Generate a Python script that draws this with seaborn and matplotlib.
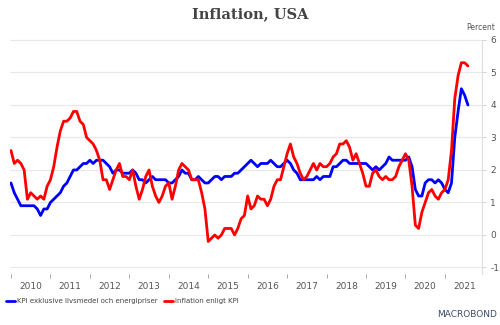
import numpy as np
import pandas as pd
import matplotlib
matplotlib.use("Agg")
import matplotlib.pyplot as plt
import seaborn as sns

# Monthly year-over-year change, Jan 2010 - Aug 2021 (percent)
core_cpi = [
    1.6, 1.3, 1.1, 0.9, 0.9, 0.9, 0.9, 0.9, 0.8, 0.6, 0.8, 0.8,   # 2010
    1.0, 1.1, 1.2, 1.3, 1.5, 1.6, 1.8, 2.0, 2.0, 2.1, 2.2, 2.2,   # 2011
    2.3, 2.2, 2.3, 2.3, 2.3, 2.2, 2.1, 1.9, 2.0, 2.0, 1.9, 1.9,   # 2012
    1.9, 2.0, 1.9, 1.7, 1.7, 1.6, 1.7, 1.8, 1.7, 1.7, 1.7, 1.7,   # 2013
    1.6, 1.6, 1.7, 1.8, 2.0, 1.9, 1.9, 1.7, 1.7, 1.8, 1.7, 1.6,   # 2014
    1.6, 1.7, 1.8, 1.8, 1.7, 1.8, 1.8, 1.8, 1.9, 1.9, 2.0, 2.1,   # 2015
    2.2, 2.3, 2.2, 2.1, 2.2, 2.2, 2.2, 2.3, 2.2, 2.1, 2.1, 2.2,   # 2016
    2.3, 2.2, 2.0, 1.9, 1.7, 1.7, 1.7, 1.7, 1.7, 1.8, 1.7, 1.8,   # 2017
    1.8, 1.8, 2.1, 2.1, 2.2, 2.3, 2.3, 2.2, 2.2, 2.2, 2.2, 2.2,   # 2018
    2.2, 2.1, 2.0, 2.1, 2.0, 2.1, 2.2, 2.4, 2.3, 2.3, 2.3, 2.3,   # 2019
    2.3, 2.4, 2.1, 1.4, 1.2, 1.2, 1.6, 1.7, 1.7, 1.6, 1.7, 1.6,   # 2020
    1.4, 1.3, 1.6, 3.0, 3.8, 4.5, 4.3, 4.0,                       # 2021
]
headline_cpi = [
    2.6, 2.2, 2.3, 2.2, 2.0, 1.1, 1.3, 1.2, 1.1, 1.2, 1.1, 1.5,   # 2010
    1.7, 2.1, 2.7, 3.2, 3.5, 3.5, 3.6, 3.8, 3.8, 3.5, 3.4, 3.0,   # 2011
    2.9, 2.8, 2.6, 2.3, 1.7, 1.7, 1.4, 1.7, 2.0, 2.2, 1.8, 1.8,   # 2012
    1.7, 2.0, 1.5, 1.1, 1.4, 1.8, 2.0, 1.5, 1.2, 1.0, 1.2, 1.5,   # 2013
    1.6, 1.1, 1.5, 2.0, 2.2, 2.1, 2.0, 1.7, 1.7, 1.7, 1.3, 0.8,   # 2014
    -0.2, -0.1, 0.0, -0.1, 0.0, 0.2, 0.2, 0.2, 0.0, 0.2, 0.5, 0.6, # 2015
    1.2, 0.8, 0.9, 1.2, 1.1, 1.1, 0.9, 1.1, 1.5, 1.7, 1.7, 2.1,   # 2016
    2.5, 2.8, 2.4, 2.2, 1.9, 1.7, 1.8, 2.0, 2.2, 2.0, 2.2, 2.1,   # 2017
    2.1, 2.2, 2.4, 2.5, 2.8, 2.8, 2.9, 2.7, 2.3, 2.5, 2.2, 1.9,   # 2018
    1.5, 1.5, 1.9, 2.0, 1.8, 1.7, 1.8, 1.7, 1.7, 1.8, 2.1, 2.3,   # 2019
    2.5, 2.3, 1.5, 0.3, 0.2, 0.7, 1.0, 1.3, 1.4, 1.2, 1.1, 1.3,   # 2020
    1.4, 1.7, 2.6, 4.2, 4.9, 5.3, 5.3, 5.2,                       # 2021
]
series_names = ["KPI exklusive livsmedel och energipriser", "Inflation enligt KPI"]
series_colors = ["#0000FF", "#FF0000"]
years = list(range(2010, 2022))
y_ticks = [-1, 0, 1, 2, 3, 4, 5, 6]

t = 2010 + np.arange(len(core_cpi)) / 12.0
df = pd.concat([
    pd.DataFrame({"t": t, "value": core_cpi, "series": series_names[0]}),
    pd.DataFrame({"t": t, "value": headline_cpi, "series": series_names[1]}),
])

sns.set_theme(style="white")
plt.rcParams["font.family"] = ["DejaVu Sans"]

fig = plt.figure(figsize=(5, 3.25), dpi=100)
ax = fig.add_axes([0.02, 0.157, 0.944, 0.72])

sns.lineplot(data=df, x="t", y="value", hue="series", hue_order=series_names,
             palette=series_colors, linewidth=2.0, ax=ax, legend=False)

ax.set_xlim(2009.975, 2021.94)
ax.set_ylim(-1.2, 6.0)
ax.set_xlabel("")
ax.set_ylabel("")

# grid lines
for v in y_ticks:
    ax.axhline(v, color="#e8e8e8", linewidth=0.9, zorder=0, clip_on=False)

# right-hand y axis
ax.yaxis.tick_right()
ax.set_yticks(y_ticks)
ax.set_yticklabels([str(v) for v in y_ticks], fontsize=6.5, color="#555555")
ax.tick_params(axis="y", length=3, width=0.6, color="#cccccc", pad=3, right=True, left=False)

# x axis: ticks at year boundaries, labels centred in each year
ax.set_xticks(years)
ax.set_xticklabels([])
ax.set_xticks([y + 0.5 for y in years], minor=True)
ax.set_xticklabels([str(y) for y in years], minor=True, fontsize=6.5, color="#555555")
ax.tick_params(axis="x", which="major", length=3, width=0.6, color="#999999", bottom=True)
ax.tick_params(axis="x", which="minor", length=0, pad=6)

for side in ["top", "left", "bottom"]:
    ax.spines[side].set_visible(False)
ax.spines["right"].set_color("#e0e0e0")
ax.spines["right"].set_linewidth(0.9)

fig.text(0.5, 0.955, "Inflation, USA", ha="center", va="center",
         fontsize=10.5, fontweight="bold", color="#444444", family="DejaVu Serif")
fig.text(0.99, 0.915, "Percent", ha="right", va="center", fontsize=5.5, color="#555555")

handles = [plt.Line2D([], [], color=c, linewidth=2) for c in series_colors]
fig.legend(handles, series_names, loc="center left", bbox_to_anchor=(0.0, 0.073),
           ncol=2, frameon=False, fontsize=5.0, handlelength=1.2, handletextpad=0.3,
           columnspacing=1.0, labelcolor="#444444")

fig.text(0.995, 0.018, "MACROBOND", ha="right", va="bottom", fontsize=6.5,
         color="#3a4a6a", family="DejaVu Sans")

fig.savefig("out.png", dpi=100)
